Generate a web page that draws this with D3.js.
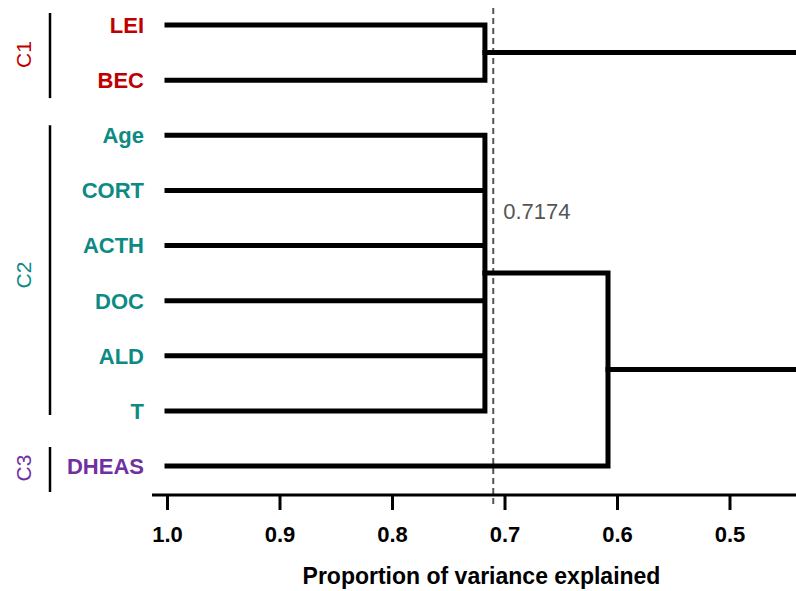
<!DOCTYPE html>
<html>
<head>
<meta charset="utf-8">
<script src="https://cdn.jsdelivr.net/npm/d3@7"></script>
<style>
  body { margin: 0; background: #fff; }
  svg { display: block; font-family: "Liberation Sans", Arial, sans-serif; }
</style>
</head>
<body>
<div id="chart"></div>
<script>
// leaves, top to bottom
const leaves = ["LEI", "BEC", "Age", "CORT", "ACTH", "DOC", "ALD", "T", "DHEAS"];
const leafGroups = ["C1", "C1", "C2", "C2", "C2", "C2", "C2", "C2", "C3"];
const groupNames = ["C1", "C2", "C3"];
// height where each group's leaves join
const groupHeights = [0.7174, 0.7174, 1.0];
// C2 + C3 join, then the root (off to the right, outside the view)
const joinC2C3 = 0.608;
const rootHeight = 0.40;
// cut line
const cutHeight = 0.71;
const cutLabel = "0.7174";
const xTicks = [1.0, 0.9, 0.8, 0.7, 0.6, 0.5];

let width = 796;
let height = 591;

let color = {
  C1: '#c00000',
  C2: '#0e8a84',
  C3: '#7030a0',
  line: '#000',
  cut: '#555'
};

// build tree from the arrays
let groupNode = g => {
  let names = leaves.filter((d, i) => leafGroups[i] === g);
  let h = groupHeights[groupNames.indexOf(g)];
  if (names.length === 1) return { name: names[0], h: 1.0 };
  return { h: h, children: names.map(n => ({ name: n, h: 1.0 })) };
};

const treeData = {
  h: rootHeight,
  children: [
    groupNode("C1"),
    { h: joinC2C3, children: [groupNode("C2"), groupNode("C3")] }
  ]
};

const root = d3.hierarchy(treeData);

let x = d3.scaleLinear()
  .domain([1.0, 0.5])
  .range([167, 729.5]);

let y = d3.scalePoint()
  .domain(leaves)
  .range([25, 466]);

// y of each node: middle of first and last child
root.eachAfter(n => {
  if (!n.children) n.yy = y(n.data.name);
  else n.yy = (n.children[0].yy + n.children[n.children.length - 1].yy) / 2;
});

const svg = d3.select("#chart").append("svg")
  .attr('width', width)
  .attr('height', height);

// cut line
svg.append('line')
  .attr('x1', x(cutHeight)).attr('x2', x(cutHeight))
  .attr('y1', 8).attr('y2', 508)
  .attr('stroke', color.cut)
  .attr('stroke-width', 2)
  .attr('stroke-dasharray', '6,4');

svg.append('text')
  .attr('x', x(cutHeight) + 10)
  .attr('y', 219)
  .attr('font-size', 22)
  .attr('fill', color.cut)
  .text(cutLabel);

// elbow links
const links = svg.append('g')
  .attr('fill', 'none')
  .attr('stroke', color.line)
  .attr('stroke-width', 5)
  .attr('stroke-linecap', 'square');

root.descendants().filter(n => n.children).forEach(n => {
  links.append('path')
    .attr('d', n.children.map(c =>
      `M${x(c.data.h)},${c.yy}H${x(n.data.h)}`).join('') +
      `M${x(n.data.h)},${n.children[0].yy}V${n.children[n.children.length - 1].yy}`);
});

// leaf labels
svg.append('g')
  .selectAll('text')
  .data(leaves)
  .enter().append('text')
  .attr('x', x(1.0) - 23)
  .attr('y', d => y(d))
  .attr('dy', '0.36em')
  .attr('text-anchor', 'end')
  .attr('font-size', 22)
  .attr('font-weight', 'bold')
  .attr('fill', (d, i) => color[leafGroups[i]])
  .text(d => d);

// group brackets
let pad = { C1: [12, 18], C2: [10, 4], C3: [19, 26] };
groupNames.forEach(g => {
  let ys = leaves.filter((d, i) => leafGroups[i] === g).map(d => y(d));
  let y0 = d3.min(ys) - pad[g][0], y1 = d3.max(ys) + pad[g][1];
  svg.append('line')
    .attr('x1', 50).attr('x2', 50)
    .attr('y1', y0).attr('y2', y1)
    .attr('stroke', '#000')
    .attr('stroke-width', 2.5);
  let cy = (d3.min(ys) + d3.max(ys)) / 2 + 2;
  svg.append('text')
    .attr('transform', `translate(31,${cy}) rotate(-90)`)
    .attr('text-anchor', 'middle')
    .attr('font-size', 21)
    .attr('fill', color[g])
    .text(g);
});

// x axis
let xAxis = g => g
  .attr('transform', `translate(0,495)`)
  .call(d3.axisBottom(x)
    .tickValues(xTicks)
    .tickFormat(d3.format('.1f'))
    .tickSize(15)
    .tickPadding(16))
  .call(g => g.select('.domain').remove())
  .call(g => g.selectAll('.tick line').attr('stroke-width', 3))
  .call(g => g.selectAll('.tick text')
    .attr('font-size', 22)
    .attr('font-weight', 'bold')
    .attr('font-family', '"Liberation Sans", Arial, sans-serif')
    .attr('fill', '#000'));

const gx = svg.append('g').call(xAxis);

gx.append('line')
  .attr('x1', 152).attr('x2', width)
  .attr('y1', 0).attr('y2', 0)
  .attr('stroke', '#000')
  .attr('stroke-width', 3);

svg.append('text')
  .attr('x', (x(1.0) + width) / 2)
  .attr('y', 584)
  .attr('text-anchor', 'middle')
  .attr('font-size', 23)
  .attr('font-weight', 'bold')
  .text('Proportion of variance explained');
</script>
</body>
</html>
